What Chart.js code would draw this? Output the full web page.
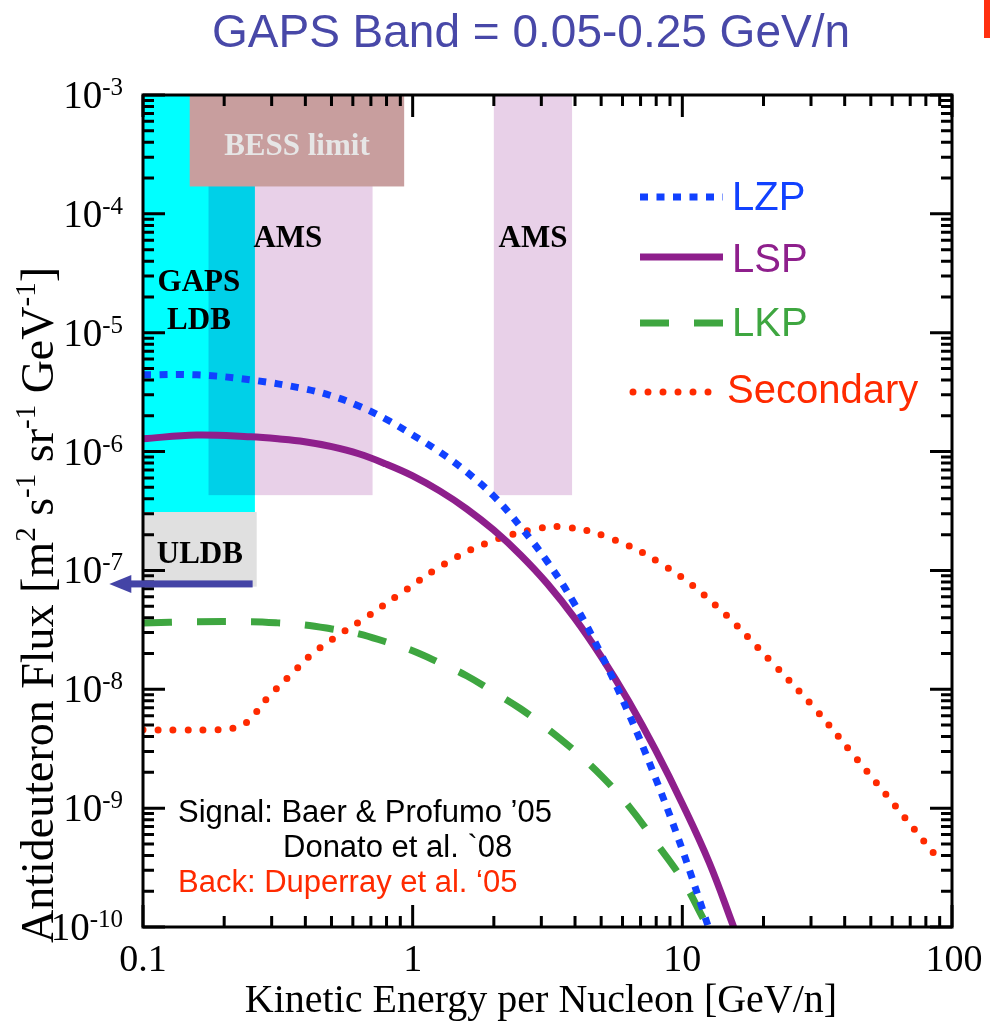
<!DOCTYPE html>
<html>
<head>
<meta charset="utf-8">
<title>GAPS antideuteron flux</title>
<script src="https://cdn.jsdelivr.net/npm/chart.js@4.4.0/dist/chart.umd.min.js"></script>
<style>
  html, body { margin: 0; padding: 0; background: #fff; }
</style>
</head>
<body>
<canvas id="fluxChart" width="990" height="1026"></canvas>
<script>
// curves: kinetic energy [GeV/n] and flux [m^-2 s^-1 sr^-1 GeV^-1]
const lzpE    = [0.1, 0.158, 0.251, 0.398, 0.501, 0.631, 0.794, 1.0, 1.259, 1.585, 1.995, 2.512, 3.162, 3.981, 5.012, 6.31, 7.943, 10.0, 12.59];
const lzpFlux = [4.42e-6, 4.42e-6, 4.01e-6, 3.37e-6, 2.94e-6, 2.42e-6, 1.88e-6, 1.38e-6, 9.93e-7, 6.75e-7, 4.24e-7, 2.33e-7, 1.18e-7, 5.24e-8, 1.95e-8, 6.34e-9, 1.8e-9, 4.47e-10, 9.5e-11];

const lspE    = [0.1, 0.158, 0.251, 0.316, 0.398, 0.501, 0.631, 0.794, 1.0, 1.259, 1.585, 1.995, 2.512, 3.162, 3.981, 5.012, 6.31, 7.943, 10.0, 12.59, 15.5];
const lspFlux = [1.28e-6, 1.38e-6, 1.33e-6, 1.28e-6, 1.21e-6, 1.1e-6, 9.58e-7, 7.88e-7, 6.25e-7, 4.67e-7, 3.3e-7, 2.19e-7, 1.35e-7, 7.71e-8, 3.99e-8, 1.87e-8, 8.0e-9, 3.1e-9, 1.09e-9, 3.47e-10, 1.0e-10];

const lkpE    = [0.1, 0.158, 0.251, 0.316, 0.398, 0.501, 0.631, 0.794, 1.0, 1.259, 1.585, 1.995, 2.512, 3.162, 3.981, 5.012, 6.31, 7.943, 10.0, 12.02];
const lkpFlux = [3.62e-8, 3.7e-8, 3.7e-8, 3.62e-8, 3.48e-8, 3.22e-8, 2.93e-8, 2.51e-8, 2.11e-8, 1.67e-8, 1.3e-8, 9.5e-9, 6.86e-9, 4.66e-9, 3.04e-9, 1.87e-9, 1.05e-9, 5.21e-10, 2.5e-10, 1.15e-10];

const secE    = [0.1, 0.14, 0.188, 0.215, 0.243, 0.29, 0.35, 0.426, 0.537, 0.676, 0.93, 1.31, 1.88, 2.78, 3.59, 5.37, 8.73, 13.4, 21.4, 30.8, 43.7, 61.5, 86.5];
const secFlux = [4.56e-9, 4.55e-9, 4.56e-9, 4.7e-9, 5.3e-9, 8.5e-9, 1.3e-8, 2.0e-8, 2.9e-8, 4.07e-8, 6.7e-8, 1.13e-7, 1.7e-7, 2.2e-7, 2.33e-7, 1.88e-7, 1.07e-7, 5.0e-8, 1.7e-8, 7.0e-9, 2.7e-9, 1.05e-9, 4.05e-10];

const seriesNames = ['LZP', 'LSP', 'LKP', 'Secondary'];

// sensitivity regions (energy range, flux range)
const bandNames    = ['GAPS LDB', 'AMS', 'AMS', 'ULDB', 'BESS limit'];
const bandEmin     = [0.1, 0.175, 2.0, 0.1, 0.149];
const bandEmax     = [0.26, 0.71, 3.9, 0.264, 0.93];
const bandFluxLo   = [3.1e-7, 4.3e-7, 4.3e-7, 7.3e-8, 1.7e-4];
const bandFluxHi   = [1e-3, 1e-3, 1e-3, 3.1e-7, 1e-3];

// ULDB arrow (flux level, energy from -> to)
const arrowFlux = 7.7e-8;
const arrowE = [0.255, 0.075];

// axis ticks
const xTickValues = [0.1, 1, 10, 100];
const xTickText   = ['0.1', '1', '10', '100'];
const yTickExps   = [-3, -4, -5, -6, -7, -8, -9, -10];

const pts = (xs, ys) => xs.map((e, i) => ({ x: e, y: ys[i] }));

const bandFill  = ['#00ffff', '#e8d0e8', '#e8d0e8', '#e0e0e0', '#c89e9e'];
const bandBlend = ['source-over', 'multiply', 'multiply', 'source-over', 'source-over'];

const SERIF = '"Liberation Serif", "Times New Roman", serif';
const SANS = '"Liberation Sans", Arial, sans-serif';

// text with superscript pieces: parts = [[text, isSup], ...]
function richWidth(ctx, parts, size, supSize) {
  let w = 0;
  parts.forEach(p => {
    ctx.font = (p[1] ? supSize : size) + 'px ' + SERIF;
    w += ctx.measureText(p[0]).width;
  });
  return w;
}
function richDraw(ctx, parts, x, y, size, supSize, raise) {
  parts.forEach(p => {
    ctx.font = (p[1] ? supSize : size) + 'px ' + SERIF;
    ctx.fillText(p[0], x, p[1] ? y - raise : y);
    x += ctx.measureText(p[0]).width;
  });
}

const decor = {
  id: 'decor',
  beforeDraw(chart) {
    const ctx = chart.ctx;
    ctx.save();
    ctx.fillStyle = '#fff';
    ctx.fillRect(0, 0, chart.width, chart.height);
    ctx.restore();
  },
  beforeDatasetsDraw(chart) {
    const { ctx, chartArea: a, scales: { x, y } } = chart;
    ctx.save();
    ctx.beginPath();
    ctx.rect(a.left, a.top, a.right - a.left, a.bottom - a.top);
    ctx.clip();
    bandEmin.forEach((e0, i) => {
      const x0 = x.getPixelForValue(e0), x1 = x.getPixelForValue(bandEmax[i]);
      const y0 = y.getPixelForValue(bandFluxHi[i]), y1 = y.getPixelForValue(bandFluxLo[i]);
      ctx.globalCompositeOperation = bandBlend[i];
      ctx.fillStyle = bandFill[i];
      ctx.fillRect(x0, y0, x1 - x0, y1 - y0);
    });
    ctx.globalCompositeOperation = 'source-over';

    // band labels
    ctx.font = 'bold 31px ' + SERIF;
    ctx.textAlign = 'center';
    ctx.textBaseline = 'alphabetic';
    const mid = i => (x.getPixelForValue(bandEmin[i]) + x.getPixelForValue(bandEmax[i])) / 2;
    ctx.fillStyle = '#000';
    ctx.fillText('GAPS', mid(0), 291);
    ctx.fillText('LDB', mid(0), 329);
    ctx.fillText('AMS', x.getPixelForValue(bandEmax[0]) + 33, 247);
    ctx.fillText('AMS', mid(2), 247);
    ctx.fillText(bandNames[3], mid(3), 563);
    ctx.fillStyle = '#e6e6e6';
    ctx.fillText(bandNames[4], mid(4), 155);
    ctx.restore();
  },
  afterDatasetsDraw(chart) {
    const { ctx, chartArea: a, scales: { x, y } } = chart;
    ctx.save();

    // frame
    ctx.strokeStyle = '#000';
    ctx.lineWidth = 3;
    ctx.strokeRect(a.left, a.top, a.right - a.left, a.bottom - a.top);

    // inward ticks on all four sides
    ctx.lineWidth = 3;
    ctx.beginPath();
    for (let k = -1; k <= 2; k++) {
      for (let m = 1; m <= 9; m++) {
        const v = m * Math.pow(10, k);
        if (v > 100.001) break;
        const px = x.getPixelForValue(v), len = m === 1 ? 22 : 11;
        ctx.moveTo(px, a.bottom); ctx.lineTo(px, a.bottom - len);
        ctx.moveTo(px, a.top); ctx.lineTo(px, a.top + len);
      }
    }
    for (let k = -10; k <= -3; k++) {
      for (let m = 1; m <= 9; m++) {
        const v = m * Math.pow(10, k);
        if (k === -3 && m > 1) break;
        const py = y.getPixelForValue(v), len = m === 1 ? 22 : 11;
        ctx.moveTo(a.left, py); ctx.lineTo(a.left + len, py);
        ctx.moveTo(a.right, py); ctx.lineTo(a.right - len, py);
      }
    }
    ctx.stroke();

    // tick labels
    ctx.fillStyle = '#000';
    ctx.textBaseline = 'alphabetic';
    ctx.textAlign = 'center';
    ctx.font = '38px ' + SERIF;
    xTickValues.forEach((v, i) => {
      ctx.fillText(xTickText[i], x.getPixelForValue(v) + (i === 3 ? 2 : 0), 971);
    });
    ctx.textAlign = 'left';
    yTickExps.forEach(k => {
      const py = y.getPixelForValue(Math.pow(10, k));
      const parts = [['10', 0], [String(k), 1]];
      const w = richWidth(ctx, parts, 39, 25);
      richDraw(ctx, parts, 123 - w, py + 13, 39, 25, 13);
    });

    // axis titles
    ctx.font = '40px ' + SERIF;
    ctx.textAlign = 'center';
    ctx.fillText('Kinetic Energy per Nucleon [GeV/n]', 541, 1012);

    const yParts = [['Antideuteron Flux [m', 0], ['2', 1], [' s', 0], ['-1', 1], [' sr', 0], ['-1', 1], [' GeV', 0], ['-1', 1], [']', 0]];
    ctx.save();
    ctx.translate(53, 605);
    ctx.rotate(-Math.PI / 2);
    ctx.textAlign = 'left';
    const yw = richWidth(ctx, yParts, 46, 29);
    richDraw(ctx, yParts, -yw / 2, 0, 46, 29, 18);
    ctx.restore();

    // title
    ctx.font = '46px ' + SANS;
    ctx.fillStyle = '#4848a8';
    ctx.textAlign = 'center';
    ctx.fillText('GAPS Band = 0.05-0.25 GeV/n', 531, 47);

    // references
    ctx.font = '31px ' + SANS;
    ctx.textAlign = 'left';
    ctx.fillStyle = '#000';
    ctx.fillText('Signal: Baer & Profumo \u201905', 178, 822);
    ctx.fillText('Donato et al. `08', 283, 857);
    ctx.fillStyle = '#ff2a00';
    ctx.fillText('Back: Duperray et al. \u201805', 178, 892);

    // legend
    const rows = [197, 257, 323, 392];
    const textBase = [210, 272, 336, 403];
    chart.data.datasets.forEach((ds, i) => {
      ctx.save();
      ctx.strokeStyle = ds.borderColor;
      ctx.lineWidth = ds.borderWidth;
      ctx.lineCap = ds.borderCapStyle || 'butt';
      ctx.setLineDash(ds.borderDash || []);
      ctx.beginPath();
      if (i === 3) { ctx.moveTo(633, rows[i]); ctx.lineTo(718, rows[i]); }
      else { ctx.moveTo(640, rows[i]); ctx.lineTo(723, rows[i]); }
      ctx.stroke();
      ctx.restore();
      ctx.font = '40px ' + SANS;
      ctx.fillStyle = ds.borderColor;
      ctx.fillText(seriesNames[i], i === 3 ? 727 : 732, textBase[i]);
    });

    // ULDB arrow
    const ay = y.getPixelForValue(arrowFlux);
    const ax0 = x.getPixelForValue(arrowE[0]), ax1 = x.getPixelForValue(arrowE[1]);
    ctx.fillStyle = '#4444a6';
    ctx.fillRect(ax1 + 18, ay - 3.5, ax0 - ax1 - 18, 7);
    ctx.beginPath();
    ctx.moveTo(ax1, ay);
    ctx.lineTo(ax1 + 22, ay - 9);
    ctx.lineTo(ax1 + 22, ay + 9);
    ctx.closePath();
    ctx.fill();

    // edge of the next slide element
    ctx.fillStyle = '#ff3010';
    ctx.fillRect(984, 0, 6, 38);

    ctx.restore();
  }
};

const lineStyle = { borderWidth: 7, pointRadius: 0, tension: 0.4, clip: 0 };

new Chart(document.getElementById('fluxChart'), {
  type: 'line',
  data: {
    datasets: [
      Object.assign({
        label: seriesNames[0],
        data: pts(lzpE, lzpFlux),
        borderColor: '#1141ff',
        borderDash: [8, 8.5],
        borderCapStyle: 'butt'
      }, lineStyle),
      Object.assign({
        label: seriesNames[1],
        data: pts(lspE, lspFlux),
        borderColor: '#8e1f8c'
      }, lineStyle),
      Object.assign({
        label: seriesNames[2],
        data: pts(lkpE, lkpFlux),
        borderColor: '#3ea640',
        borderDash: [29, 25],
        borderCapStyle: 'butt'
      }, lineStyle),
      Object.assign({
        label: seriesNames[3],
        data: pts(secE, secFlux),
        borderColor: '#ff2a00',
        borderDash: [0, 15],
        borderCapStyle: 'round'
      }, lineStyle)
    ]
  },
  options: {
    responsive: false,
    devicePixelRatio: 1,
    animation: false,
    layout: { padding: { left: 143, top: 95, right: 38, bottom: 99 } },
    scales: {
      x: { type: 'logarithmic', min: 0.1, max: 100, display: false },
      y: { type: 'logarithmic', min: 1e-10, max: 1e-3, display: false }
    },
    plugins: {
      legend: { display: false },
      tooltip: { enabled: false }
    }
  },
  plugins: [decor]
});
</script>
</body>
</html>
